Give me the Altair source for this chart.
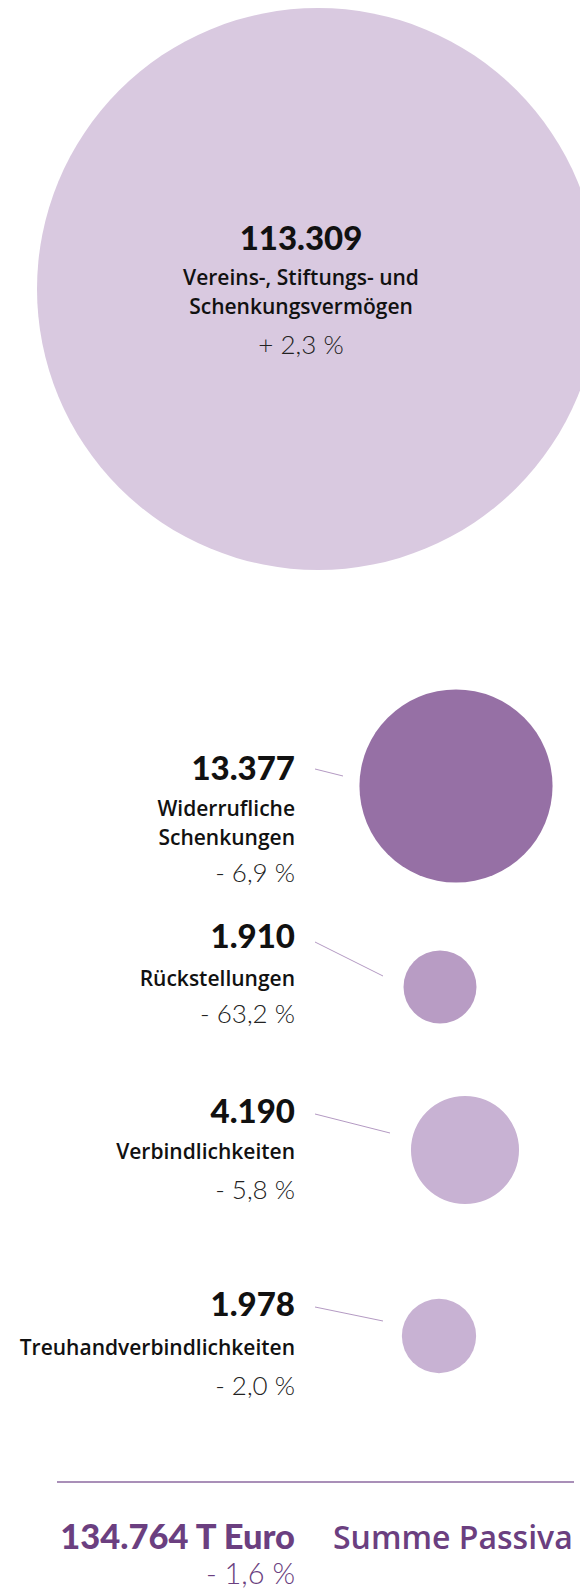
import altair as alt
import pandas as pd

# ---------------- data ----------------
categories = ["Vereins-, Stiftungs- und\nSchenkungsvermögen", "Widerrufliche\nSchenkungen",
              "Rückstellungen", "Verbindlichkeiten", "Treuhandverbindlichkeiten"]
values = [113309, 13377, 1910, 4190, 1978]
changes = ["+ 2,3 %", "- 6,9 %", "- 63,2 %", "- 5,8 %", "- 2,0 %"]
total_value = 134764
total_unit = "T Euro"
total_change = "- 1,6 %"
total_label = "Summe Passiva"

# ---------------- layout / style ----------------
W, H = 572, 1581
bubble_x = [310, 448, 432, 457, 431]
bubble_y = [281, 778, 979, 1142, 1328]
colors = ["#d9c9e0", "#9670a5", "#b89cc4", "#c8b2d3", "#c8b2d3"]
text_x = [293, 287, 287, 287, 287]
num_y = [232, 762, 930, 1105, 1298]
lab_y = [271, 802, 972, 1145, 1341]
chg_y = [338, 866, 1007, 1183, 1379]
lead_x, lead_x2 = [307, 307, 307, 307], [335, 375, 382, 375]
lead_y, lead_y2 = [761, 934, 1106, 1299], [768, 968, 1125, 1313]

def de(n):
    return f"{n:,}".replace(",", ".")

ids = list(range(len(values)))
df = pd.DataFrame({
    "id": ids, "cat": categories, "value": values, "change": changes,
    "num": [de(v) for v in values],
    "bx": bubble_x, "by": bubble_y, "tx": text_x,
    "ny": num_y, "ly": lab_y, "cy": chg_y,
})
lead = pd.DataFrame({"x": lead_x, "x2": lead_x2, "y": lead_y, "y2": lead_y2})
tot = pd.DataFrame({"num": [f"{de(total_value)} {total_unit}"], "label": [total_label],
                    "change": [total_change], "x": [287], "x_lab": [325],
                    "y": [1531], "cy": [1567], "rx": [49], "rx2": [566], "ry": [1474]})

xs = alt.Scale(domain=[0, W], nice=False, zero=False)
ys = alt.Scale(domain=[0, H], nice=False, zero=False, reverse=True)

def X(f):
    return alt.X(f"{f}:Q", scale=xs, axis=None)

def Y(f):
    return alt.Y(f"{f}:Q", scale=ys, axis=None)

base = alt.Chart(df)

# Vega circle size = diameter^2
bubbles = base.mark_circle(opacity=1).encode(
    x=X("bx"), y=Y("by"),
    size=alt.Size("value:Q", scale=alt.Scale(domain=[0, 113309], range=[0, 562 * 562]), legend=None),
    color=alt.Color("id:N", scale=alt.Scale(domain=ids, range=colors), legend=None),
)

leaders = alt.Chart(lead).mark_rule(color="#b49ac3", strokeWidth=1).encode(
    x=X("x"), x2="x2", y=Y("y"), y2="y2")

num_font = dict(font="Lato", fontWeight=900, fontSize=33, color="#111111", baseline="middle")
lab_font = dict(font="Open Sans", fontWeight=600, fontSize=21, color="#111111",
                baseline="middle", lineBreak="\n", lineHeight=29)
chg_font = dict(font="Lato", fontWeight=300, fontSize=26, color="#222222", baseline="middle")

layers = [bubbles, leaders]
for filt, align in [("datum.id == 0", "center"), ("datum.id > 0", "right")]:
    b = base.transform_filter(filt)
    layers.append(b.mark_text(align=align, **num_font).encode(x=X("tx"), y=Y("ny"), text="num:N"))
    layers.append(b.mark_text(align=align, **lab_font).encode(x=X("tx"), y=Y("ly"), text="cat:N"))
    layers.append(b.mark_text(align=align, **chg_font).encode(x=X("tx"), y=Y("cy"), text="change:N"))

tb = alt.Chart(tot)
layers += [
    tb.mark_rule(color="#8d6aa0", strokeWidth=1.5).encode(x=X("rx"), x2="rx2", y=Y("ry")),
    tb.mark_text(align="right", font="Lato", fontWeight=900, fontSize=34.5, color="#6b3f80",
                 baseline="middle").encode(x=X("x"), y=Y("y"), text="num:N"),
    tb.mark_text(align="left", font="Open Sans", fontWeight=600, fontSize=32, color="#6b3f80",
                 baseline="middle").encode(x=X("x_lab"), y=Y("y"), text="label:N"),
    tb.mark_text(align="right", font="Lato", fontWeight=300, fontSize=29, color="#6b3f80",
                 baseline="middle").encode(x=X("x"), y=Y("cy"), text="change:N"),
]

chart = alt.layer(*layers).properties(
    width=W, height=H, autosize=alt.AutoSizeParams(type="none"), padding=0
).configure_view(stroke=None)

chart.save("out.html", embed_options={"renderer": "svg", "actions": False})
